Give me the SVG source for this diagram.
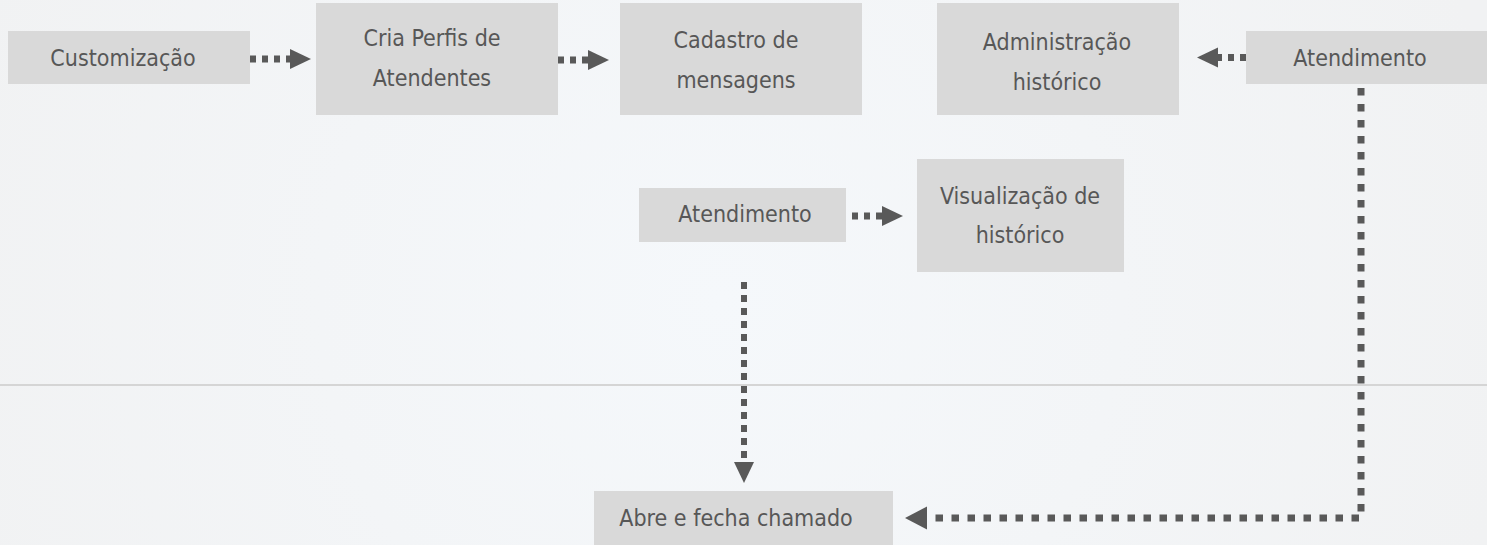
<svg xmlns="http://www.w3.org/2000/svg" width="1487" height="545" viewBox="0 0 1487 545">
<defs>
<radialGradient id="bg" cx="720" cy="300" r="800" gradientUnits="userSpaceOnUse">
<stop offset="0" stop-color="#f5f8fb"/>
<stop offset="1" stop-color="#f1f2f3"/>
</radialGradient>
<marker id="ah" markerUnits="userSpaceOnUse" markerWidth="22" markerHeight="22" refX="0" refY="11" orient="auto">
<path d="M0,1 L21,11 L0,21 z" fill="#595959"/>
</marker>
<marker id="ah2" markerUnits="userSpaceOnUse" markerWidth="24" markerHeight="24" refX="0" refY="12" orient="auto">
<path d="M0,0.5 L22,12 L0,23.5 z" fill="#595959"/>
</marker>
<style>
.box{fill:#d9d9d9}
.t{font-family:"DejaVu Sans Condensed","DejaVu Sans",sans-serif;font-size:23px;fill:#575757;text-anchor:middle}
.c{fill:none;stroke:#595959;stroke-width:7;stroke-dasharray:6 6}
</style>
</defs>
<rect width="1487" height="545" fill="url(#bg)"/>
<line x1="0" y1="385" x2="1487" y2="385" stroke="#d5d5d5" stroke-width="2"/>
<g id="n1"><rect class="box" x="8" y="31" width="242" height="53"/><text class="t" x="123" y="66">Customização</text></g>
<g id="n2"><rect class="box" x="316" y="3" width="242" height="112"/><text class="t" x="432" y="46">Cria Perfis de</text><text class="t" x="432" y="86">Atendentes</text></g>
<g id="n3"><rect class="box" x="620" y="3" width="242" height="112"/><text class="t" x="736" y="48">Cadastro de</text><text class="t" x="736" y="88">mensagens</text></g>
<g id="n4"><rect class="box" x="937" y="3" width="242" height="112"/><text class="t" x="1057" y="50">Administração</text><text class="t" x="1057" y="90">histórico</text></g>
<g id="n5"><rect class="box" x="1246" y="31" width="241" height="53"/><text class="t" x="1360" y="66">Atendimento</text></g>
<g id="n6"><rect class="box" x="639" y="188" width="207" height="54"/><text class="t" x="745" y="222">Atendimento</text></g>
<g id="n7"><rect class="box" x="917" y="159" width="207" height="113"/><text class="t" x="1020" y="204">Visualização de</text><text class="t" x="1020" y="243">histórico</text></g>
<g id="n8"><rect class="box" x="594" y="491" width="299" height="54"/><text class="t" x="736" y="526">Abre e fecha chamado</text></g>
<g id="connectors">
<path class="c" d="M250,59 H290" marker-end="url(#ah)"/>
<path class="c" d="M558,60 H588" marker-end="url(#ah)"/>
<path class="c" d="M1246,57.5 H1218" marker-end="url(#ah)"/>
<path class="c" d="M852,216 H882" marker-end="url(#ah)"/>
<path class="c" d="M744,282 V462" marker-end="url(#ah)" style="stroke-width:6;stroke-dasharray:7 6"/>
<path class="c" d="M1361,88 V518 H927" marker-end="url(#ah2)" style="stroke-dasharray:7.5 8.5"/>
</g>
</svg>
